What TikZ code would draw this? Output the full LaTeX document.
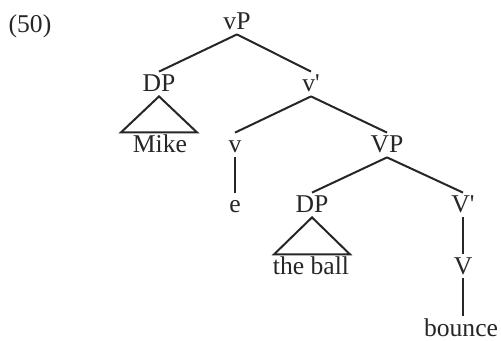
\documentclass[tikz,border=0pt]{standalone}
\usepackage{fontspec}
\setmainfont{Liberation Serif}[Ligatures=TeXOff]
\begin{document}
\begin{tikzpicture}[x=0.5pt,y=-0.5pt,
  lbl/.style={inner sep=0pt, text height=10pt, text depth=2pt, anchor=base,
    font=\fontsize{12.8}{15}\selectfont, text=black!85},
  edge/.style={line width=1pt, draw=black!85},
  tri/.style={line width=1pt, draw=black!85, line join=miter}]
\useasboundingbox (0,0) rectangle (501,341);
\node[lbl] (num) at (30,33) {(50)};
\node[lbl] (vP) at (237,30) {vP};
\node[lbl] (DPa) at (159,92) {DP};
\node[lbl] (Mike) at (160,153) {Mike};
\node[lbl] (vbar) at (311,92) {v'};
\node[lbl] (v) at (235,153) {v};
\node[lbl] (e) at (235,213) {e};
\node[lbl] (VP) at (387,153) {VP};
\node[lbl] (DPb) at (312,213) {DP};
\node[lbl] (ball) at (311,274) {the ball};
\node[lbl] (Vbar) at (463,213) {V'};
\node[lbl] (V) at (463,274) {V};
\node[lbl] (bounce) at (461,336) {bounce};
\draw[edge] (vP.south) -- (DPa.north);
\draw[edge] (vP.south) -- (vbar.north);
\draw[tri] (DPa.south) -- ++(-38,36) -- ++(76,0) -- cycle;
\draw[edge] (vbar.south) -- (v.north);
\draw[edge] (vbar.south) -- (VP.north);
\draw[edge] (v.south) -- (e.north);
\draw[edge] (VP.south) -- (DPb.north);
\draw[edge] (VP.south) -- (Vbar.north);
\draw[tri] (DPb.south) -- ++(-38,37) -- ++(76,0) -- cycle;
\draw[edge] (Vbar.south) -- (V.north);
\draw[edge] (V.south) -- (V.south |- bounce.north);
\end{tikzpicture}
\end{document}
